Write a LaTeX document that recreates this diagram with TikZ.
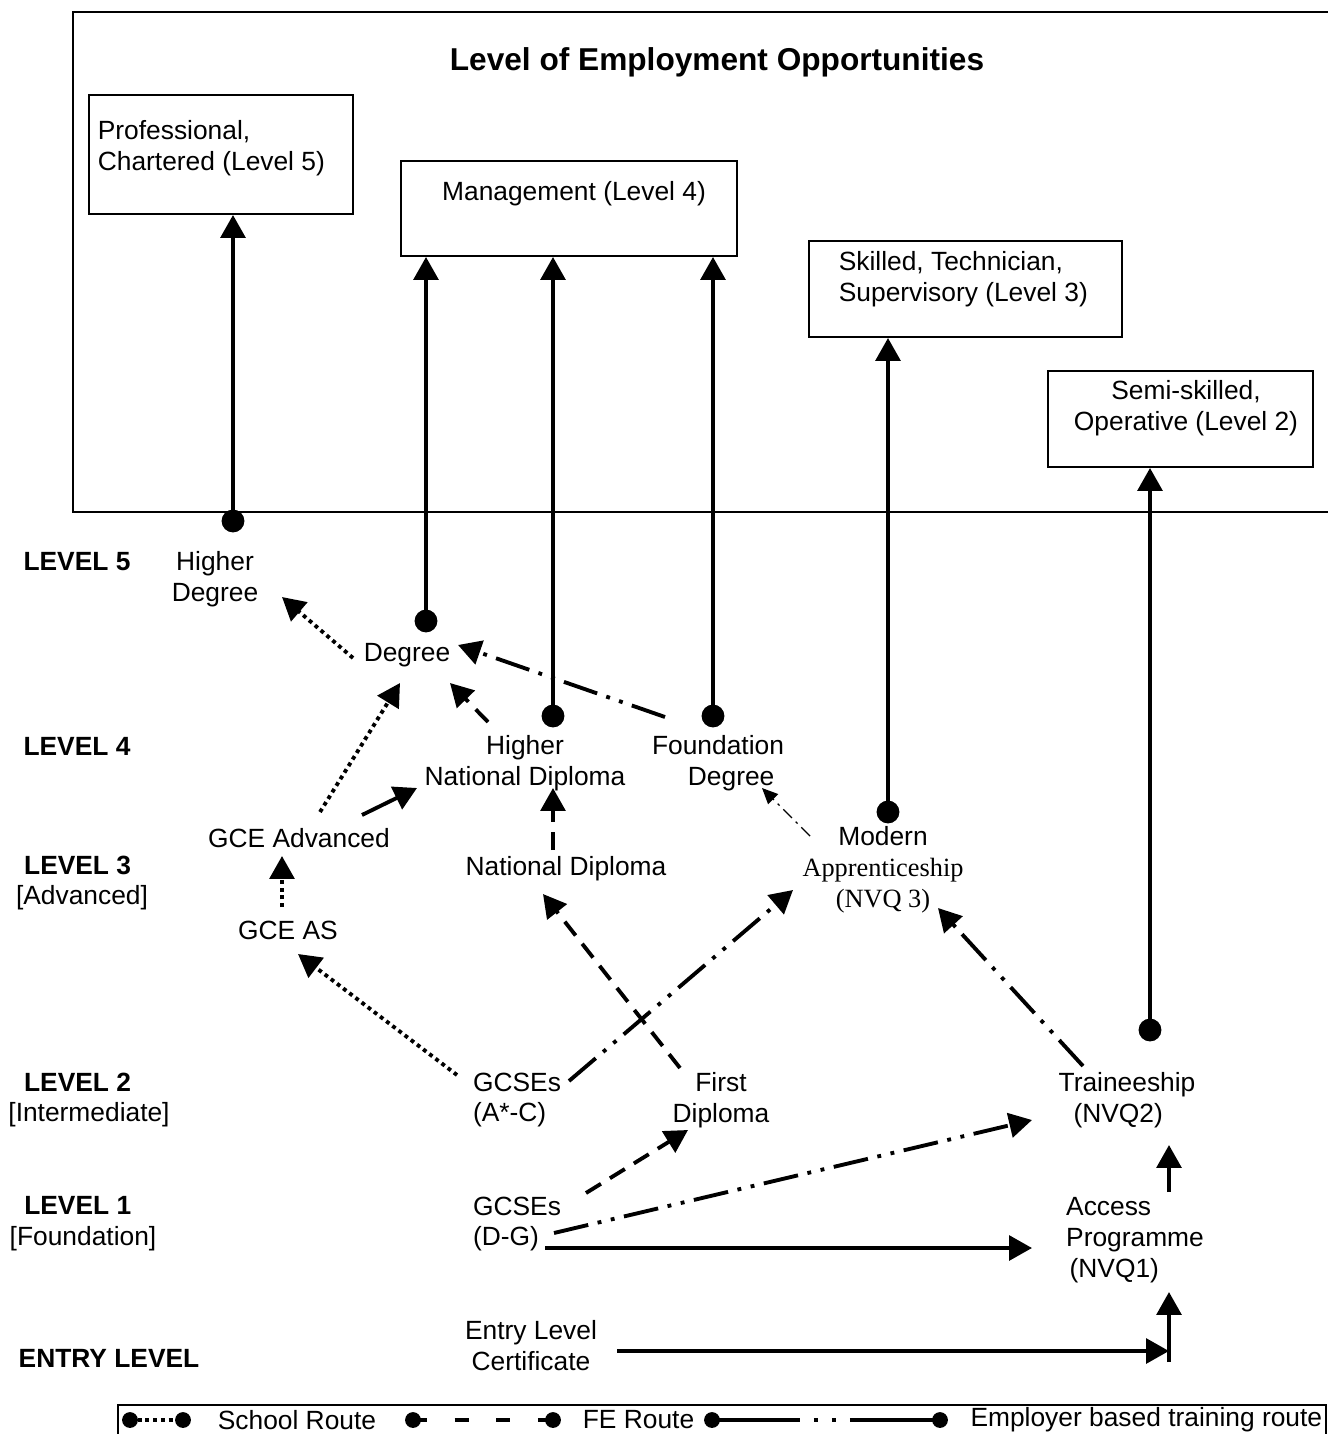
\documentclass[tikz,border=0pt]{standalone}
\usepackage{fontspec}
\setmainfont{Liberation Sans}
\newfontfamily\serifface{Liberation Serif}
\usetikzlibrary{arrows.meta, calc, fit}

\tikzset{
  base/.style={font=\fontsize{15}{17.6}\selectfont, inner sep=2pt},
  qual/.style={base, align=center},
  lvl/.style={qual, font=\fontsize{15}{17.6}\selectfont\bfseries},
  jobbox/.style={draw, line width=1.1pt, inner sep=0pt},
  route/.style={line width=2.2pt, -{Triangle[length=13pt,width=14pt]}},
  school/.style={route, dash pattern=on 2.2pt off 2.2pt},
  feroute/.style={route, dash pattern=on 10pt off 6pt},
  emproute/.style={route, dash pattern=on 20pt off 5.5pt on 2.2pt off 5.5pt on 2.2pt off 5.5pt},
  thinroute/.style={line width=0.8pt, dash pattern=on 7pt off 3pt on 1.5pt off 3pt, -{Triangle[length=9pt,width=8pt]}},
}

\begin{document}
\begin{tikzpicture}[x=0.02cm, y=-0.02cm]
\useasboundingbox (0,0) rectangle (1328,1434);
\def\R{6.5pt}

% employment frame
\draw[line width=1.1pt] (1340,12) -- (73,12) -- (73,512) -- (1340,512);
\node[font=\fontsize{18}{21}\selectfont\bfseries] (title) at (717,62) {Level of Employment Opportunities};

\node[jobbox, fit={(89,95) (353,214)}] (prof) {};
\node[jobbox, fit={(401,161) (737,256)}] (mgmt) {};
\node[jobbox, fit={(809,241) (1122,337)}] (skill) {};
\node[jobbox, fit={(1048,371) (1313,467)}] (semi) {};

\node[base, align=left, anchor=west] (profT) at (94,148) {Professional,\\Chartered (Level 5)};
\node[base] (mgmtT) at (574,194) {Management (Level 4)};
\node[base, align=left, anchor=west] (skillT) at (835,279) {Skilled, Technician,\\Supervisory (Level 3)};
\node[qual] (semiT) at (1186,408) {Semi-skilled,\\Operative (Level 2)};

% levels
\node[lvl] (lv5) at (77,562) {LEVEL 5};
\node[lvl] (lv4) at (77,746) {LEVEL 4};
\node[lvl] (lv3) at (82,883) {LEVEL 3\hspace*{5pt}\\\mdseries[Advanced]};
\node[lvl] (lv2) at (89,1100) {LEVEL 2\hspace*{13pt}\\\mdseries[Intermediate]};
\node[lvl] (lv1) at (83,1224) {LEVEL 1\hspace*{6pt}\\\mdseries[Foundation]};
\node[lvl] (lvE) at (109,1358) {ENTRY LEVEL};

% qualifications
\node[qual] (hdeg) at (215,579) {Higher\\Degree};
\node[qual] (deg) at (407,655) {Degree};
\node[qual] (hnd) at (525,763) {Higher\\National Diploma};
\node[qual] (fdeg) at (718,763) {Foundation\\\hspace*{15pt}Degree};
\node[qual] (gceA) at (299,838) {GCE Advanced};
\node[qual] (nd) at (566,869) {National Diploma};
\node[qual] (mapp) at (883,870) {Modern\\{\serifface Apprenticeship}\\{\serifface (NVQ 3)}};
\node[qual] (gceAS) at (288,930) {GCE AS};
\node[qual, align=left] (gcseAC) at (517,1100) {GCSEs\\(A*-C)};
\node[qual] (first) at (721,1100) {First\\Diploma};
\node[qual] (train) at (1127,1100) {Traineeship\\(NVQ2)\hspace*{10pt}};
\node[qual, align=left] (gcseDG) at (517,1224) {GCSEs\\(D-G)};
\node[qual, align=left] (access) at (1135,1240) {Access\\Programme\\\hspace*{2pt}(NVQ1)};
\node[qual] (entry) at (531,1346) {Entry Level\\Certificate};

% routes into employment
\coordinate (dhdeg) at (233,521);
\coordinate (ddeg) at (426,621);
\coordinate (dhnd) at (553,716);
\coordinate (dfdeg) at (713,716);
\coordinate (dmapp) at (888,812);
\coordinate (dtrain) at (1150,1030);
\foreach \d/\b in {dhdeg/prof, ddeg/mgmt, dhnd/mgmt, dfdeg/mgmt, dmapp/skill, dtrain/semi} {
  \draw[route] (\d) -- (\d |- \b.south);
  \fill (\d) circle[radius=\R];
}

% progression routes
\draw[school] ($(deg)+(-54,3)$) -- ($(hdeg)+(67,18)$);
\draw[emproute] ($(fdeg)+(-53,-46)$) -- ($(deg)+(51,-10)$);
\draw[feroute] ($(hnd)+(-37,-41)$) -- ($(deg)+(43,28)$);
\draw[school] ($(gceA)+(21,-26)$) -- ($(deg)+(-7,28)$);
\draw[route] ($(gceA)+(63,-23)$) -- ($(hnd)+(-108,25)$);
\draw[feroute] ($(nd)+(-13,-19)$) -- ($(hnd)+(28,25)$);
\draw[school] ($(gceAS)+(-6,-23)$) -- ($(gceA)+(-17,18)$);
\draw[school] ($(gcseAC)+(-60,-25)$) -- ($(gceAS)+(10,24)$);
\draw[feroute] ($(first)+(-41,-32)$) -- ($(nd)+(-23,25)$);
\draw[emproute] ($(gcseAC)+(52,-19)$) -- ($(mapp)+(-90,20)$);
\draw[emproute] ($(train)+(-44,-34)$) -- ($(mapp)+(55,38)$);
\draw[thinroute] ($(mapp)+(-73,-34)$) -- ($(fdeg)+(44,25)$);
\draw[feroute] ($(gcseDG)+(69,-31)$) -- ($(first)+(-33,30)$);
\draw[emproute] ($(gcseDG)+(37,9)$) -- ($(train)+(-95,20)$);
\draw[route] ($(gcseDG)+(28,24)$) -- ($(access)+(-103,8)$);
\draw[route] ($(access)+(34,-48)$) -- ($(train)+(42,45)$);
\coordinate (join) at (1169,1351);
\draw[route] ($(entry)+(86,5)$) -- (join);
\draw[route] ($(join)+(0,11)$) -- ($(access)+(34,52)$);

% key
\draw[line width=1.1pt] (118,1440) -- (118,1405) -- (1326,1405) -- (1326,1440);
\coordinate (k1a) at (130,1420); \coordinate (k1b) at (183,1420);
\coordinate (k2a) at (413,1420); \coordinate (k2b) at (553,1420);
\coordinate (k3a) at (712,1420); \coordinate (k3b) at (940,1420);
\draw[line width=2.2pt, dash pattern=on 2.2pt off 2.2pt] (k1a) -- (k1b);
\draw[line width=2.2pt, dash pattern=on 8pt off 15.7pt] (k2a) -- (k2b);
\draw[line width=2.2pt, dash pattern=on 50pt off 8pt on 2.2pt off 8pt on 2.2pt off 8pt] (k3a) -- (k3b);
\foreach \k in {k1a,k1b,k2a,k2b,k3a,k3b} \fill (\k) circle[radius=4.5pt];
\node[base, anchor=west] (kschool) at (214,1420) {School Route};
\node[base, anchor=west] (kfe) at (579,1420) {FE Route};
\node[base, anchor=east] (kemp) at (1326,1420) {Employer based training route};
\end{tikzpicture}
\end{document}
